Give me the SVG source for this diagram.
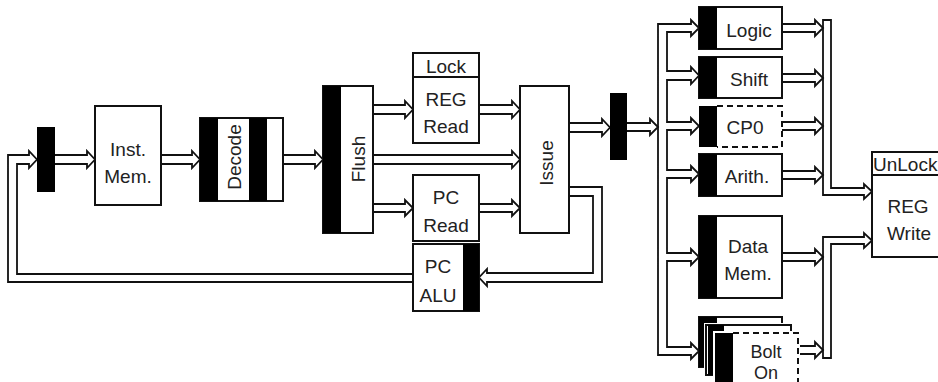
<svg xmlns="http://www.w3.org/2000/svg" width="938" height="382" viewBox="0 0 938 382">
<style>
.box{fill:#fff;stroke:#111;stroke-width:2}
.dash{fill:none;stroke:#111;stroke-width:2;stroke-dasharray:6,4}
.blk{fill:#000}
.ar{fill:none;stroke:#111;stroke-width:1.8;stroke-linejoin:miter}
text{font-family:"Liberation Sans",Arial,sans-serif;font-size:19px;fill:#222;text-anchor:middle}
</style>
<rect width="938" height="382" fill="#fff"/>
<g id="connectors">
<path class="ar" d="M413,282 H8 V155 H29 V151 L37,159.5 L29,168 V164 H17 V274 H413"/>
<path class="ar" d="M55,155 H87 V151 L95,159.5 L87,168 V164 H55"/>
<path class="ar" d="M161,155 H192 V151 L200,159.5 L192,168 V164 H161"/>
<path class="ar" d="M283,155 H315 V151 L323,159.5 L315,168 V164 H283"/>
<path class="ar" d="M373,105 H405 V101 L413,109.5 L405,118 V114 H373"/>
<path class="ar" d="M479,105 H512 V101 L520,109.5 L512,118 V114 H479"/>
<path class="ar" d="M373,155 H512 V151 L520,159.5 L512,168 V164 H373"/>
<path class="ar" d="M373,204 H405 V200 L413,208 L405,216 V212 H373"/>
<path class="ar" d="M479,204 H512 V200 L520,208 L512,216 V212 H479"/>
<path class="ar" d="M569,123 H602 V119 L610,127.5 L602,136 V132 H569"/>
<path class="ar" d="M627,123 H650 V119 L658,127 L650,135 V131 H627"/>
<path class="ar" d="M569,187 H602 V282 H487 V286 L479,277.5 L487,269 V273 H593 V196 H569"/>
<path class="ar" d="M658,24 H691 V20 L699,28 L691,36 V32 H667 V71 H691 V67 L699,75.5 L691,84 V80 H667 V122 H691 V118 L699,126 L691,134 V130 H667 V170 H691 V166 L699,174 L691,182 V178 H667 V253 H691 V249 L699,257 L691,265 V261 H667 V347 H691 V343 L699,351 L691,359 V355 H658 Z"/>
<path class="ar" d="M782,24 H815 V20 L823,28 L815,36 V32 H782"/>
<path class="ar" d="M782,74 H815 V70 L823,78 L815,86 V82 H782"/>
<path class="ar" d="M782,122 H815 V118 L823,126 L815,134 V130 H782"/>
<path class="ar" d="M782,171 H815 V167 L823,175 L815,183 V179 H782"/>
<path class="ar" d="M782,253 H815 V249 L823,257 L815,265 V261 H782"/>
<path class="ar" d="M798,346 H815 V342 L823,350 L815,358 V354 H798"/>
<path class="ar" d="M823,195 V20 H831 V188 H864 V184 L872,191.5 L864,199 V195 Z"/>
<path class="ar" d="M823,358 V237 H864 V233 L872,240.5 L864,248 V244 H831 V358 Z"/>
</g>
<g id="bar1"><rect class="blk" x="37" y="127" width="18" height="65"/></g>
<g id="instmem"><rect class="box" x="95" y="106" width="66" height="99"/><text x="128" y="156">Inst.</text><text x="128" y="183">Mem.</text></g>
<g id="decode"><rect class="box" x="200" y="118" width="83" height="83"/><rect class="blk" x="200" y="118" width="18" height="83"/><rect class="blk" x="249" y="118" width="18" height="83"/><text transform="translate(241,157) rotate(-90)">Decode</text></g>
<g id="flush"><rect class="box" x="323" y="86" width="50" height="147"/><rect class="blk" x="323" y="86" width="18" height="147"/><text transform="translate(365,159) rotate(-90)">Flush</text></g>
<g id="regread"><rect class="box" x="413" y="53" width="66" height="24"/><text x="446" y="73">Lock</text><rect class="box" x="413" y="77" width="66" height="66"/><text x="446" y="106">REG</text><text x="446" y="133">Read</text></g>
<g id="pcread"><rect class="box" x="413" y="175" width="66" height="66"/><text x="446" y="204">PC</text><text x="446" y="232">Read</text></g>
<g id="pcalu"><rect class="box" x="413" y="244" width="66" height="67"/><rect class="blk" x="463" y="244" width="16" height="67"/><text x="438" y="273">PC</text><text x="438" y="302">ALU</text></g>
<g id="issue"><rect class="box" x="520" y="86" width="49" height="147"/><text transform="translate(553,163) rotate(-90)">Issue</text></g>
<g id="bar2"><rect class="blk" x="610" y="93" width="17" height="67"/></g>
<g id="logic"><rect class="box" x="699" y="7" width="83" height="42"/><rect class="blk" x="699" y="7" width="18" height="42"/><text x="749" y="37">Logic</text></g>
<g id="shift"><rect class="box" x="699" y="57" width="83" height="41"/><rect class="blk" x="699" y="57" width="18" height="41"/><text x="749" y="86">Shift</text></g>
<g id="cp0"><rect x="717" y="106" width="65" height="41" fill="#fff"/><path class="dash" d="M717,106 H782 V147 H717"/><rect class="blk" x="699" y="106" width="18" height="41"/><text x="745" y="134">CP0</text></g>
<g id="arith"><rect class="box" x="699" y="154" width="83" height="42"/><rect class="blk" x="699" y="154" width="18" height="42"/><text x="747" y="183">Arith.</text></g>
<g id="datamem"><rect class="box" x="699" y="216" width="83" height="82"/><rect class="blk" x="699" y="216" width="18" height="82"/><text x="748" y="253">Data</text><text x="748" y="280">Mem.</text></g>
<g id="bolton">
<rect class="box" x="699" y="317" width="83" height="50"/><rect class="blk" x="699" y="317" width="18" height="50"/>
<rect x="704" y="323" width="89" height="54" fill="#fff"/>
<rect class="box" x="706" y="325" width="85" height="50"/><rect class="blk" x="708" y="325" width="16" height="50"/>
<rect x="713" y="331" width="87" height="60" fill="#fff"/>
<rect x="715" y="333" width="83" height="56" fill="#fff"/><path class="dash" d="M733,333 H798 V390"/><rect class="blk" x="715" y="333" width="18" height="56"/>
<text x="766" y="358" style="font-size:18px">Bolt</text><text x="766" y="379" style="font-size:18px">On</text>
</g>
<g id="regwrite"><rect class="box" x="872" y="152" width="74" height="23"/><text x="873" y="171" style="text-anchor:start">UnLock</text><rect class="box" x="872" y="175" width="74" height="82"/><text x="908" y="213">REG</text><text x="909" y="240">Write</text></g>
</svg>
